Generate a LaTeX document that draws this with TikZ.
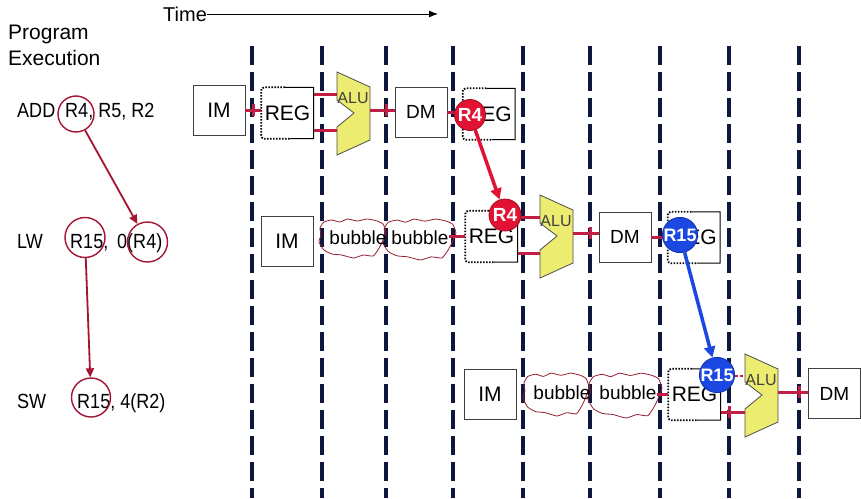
\documentclass[tikz,border=0pt]{standalone}
\usepackage{fontspec}
\setmainfont{Liberation Sans}
\newfontfamily\narrowsans[FakeStretch=0.88]{Liberation Sans}
\usetikzlibrary{arrows.meta,calc}
\definecolor{pipered}{RGB}{192,30,68}
\definecolor{circred}{RGB}{165,20,50}
\definecolor{navy}{RGB}{14,24,62}
\definecolor{aluyel}{RGB}{236,236,112}
\definecolor{rfill}{RGB}{226,18,52}
\definecolor{redge}{RGB}{165,10,30}
\definecolor{bfill}{RGB}{28,72,226}
\definecolor{bedge}{RGB}{20,50,170}
\definecolor{bubred}{RGB}{150,30,50}
\tikzset{
  stagebox/.style={draw=black!75, fill=white, line width=0.9pt, minimum width=52pt, minimum height=50pt, inner sep=0pt},
  imtext/.style={font=\fontsize{21}{21}\selectfont},
  dmtext/.style={font=\fontsize{19}{19}\selectfont},
  regnode/.style={fill=white, minimum width=52pt, minimum height=51pt, inner sep=0pt, font=\fontsize{21}{21}\selectfont},
  pipe/.style={draw=pipered, line width=3pt},
  latchmark/.style={draw=pipered, line width=3pt},
  cycleline/.style={draw=navy, line width=3.5pt, dash pattern=on 19pt off 7pt},
  regcircle/.style={circle, draw=circred, line width=1.4pt, minimum size=#1, inner sep=0pt},
  deparrow/.style={draw=circred, line width=1.8pt, -{Triangle[length=9pt,width=8pt]}},
  hotred/.style={circle, fill=rfill, draw=redge, line width=0.8pt, minimum size=31pt, inner sep=0pt, text=white, font=\bfseries\fontsize{19}{19}\selectfont},
  hotblue/.style={circle, fill=bfill, draw=bedge, line width=0.8pt, minimum size=32pt, inner sep=0pt, text=white, font=\bfseries\fontsize{18}{18}\selectfont},
  fwdred/.style={draw=rfill, line width=3.5pt, -{Triangle[length=11pt,width=11pt]}},
  fwdblue/.style={draw=bfill, line width=3.5pt, -{Triangle[length=11pt,width=11pt]}},
  lbl/.style={font=\narrowsans\fontsize{20.5}{20.5}\selectfont, inner sep=0pt, anchor=base west},
  bubtext/.style={font=\fontsize{19}{19}\selectfont, inner sep=0pt},
}
\newcommand\regoutline[1]{%
  \draw[black, line width=1pt] ($(#1.north west)!0.45!(#1.north east)$) -- (#1.north east) -- (#1.south east) -- ($(#1.south west)!0.55!(#1.south east)$);
  \draw[black, line width=1.8pt, dash pattern=on 1.6pt off 1.4pt, rounded corners=3pt] ($(#1.north west)!0.45!(#1.north east)$) -- (#1.north west) -- (#1.south west) -- ($(#1.south west)!0.55!(#1.south east)$);
}
\newcommand\alubox[3]{%
  \draw[draw=black!70, fill=aluyel, line width=0.8pt] (#2,#3) -- ++(33,15) -- ++(0,53) -- ++(-33,15) -- ++(0,-28) -- ++(17,-14) -- ++(-17,-13) -- cycle;
  \node[font=\fontsize{16}{16}\selectfont, text=black!75, inner sep=0pt] (#1) at ($(#2,#3)+(16,26)$) {ALU};
  \coordinate (#1-a) at ($(#2,#3)+(0,22)$);
  \coordinate (#1-b) at ($(#2,#3)+(0,58)$);
  \coordinate (#1-o) at ($(#2,#3)+(33,38)$);
}
\newcommand\bubblecloud[5]{%
  \begin{scope}[shift={(#2,#3)}, xscale=#4/70, yscale=#5/40]
    \draw[bubred, line width=0.8pt] plot[smooth cycle, tension=0.3] coordinates {(2,10) (6,4) (14,2) (22,4) (30,1) (40,3) (50,1) (60,3) (66,6) (69,14) (66,22) (62,30) (56,38) (46,37) (36,40) (24,37) (14,36) (6,32) (1,24) (3,17)};
  \end{scope}
}
\begin{document}
\begin{tikzpicture}[x=1pt,y=-1pt]
\useasboundingbox (0,0) rectangle (861,498);
\fill[white] (0,0) rectangle (861,498);

% clock-cycle boundaries
\foreach \x in {252,322,386,453,523,590,660,729,799}
  \draw[cycleline] (\x,46) -- (\x,498);

% headings
\node[font=\fontsize{20}{20}\selectfont, inner sep=0pt, anchor=base west] (time) at (163,21) {Time};
\coordinate (timeend) at (438,14);
\draw[line width=0.9pt, -{Latex[length=9pt,width=7pt]}] (time.east |- timeend) -- (timeend);
\node[font=\fontsize{21}{21}\selectfont, inner sep=0pt, anchor=base west] (prog) at (8,39) {Program};
\node[font=\fontsize{21}{21}\selectfont, inner sep=0pt, anchor=base west] (exec) at (8,65) {Execution};

% instruction labels
\node[lbl] (add) at (17,117) {ADD};
\node[lbl] (addops) at (65,117) {R4, R5, R2};
\node[lbl] (lw) at (17,248) {LW};
\node[lbl] (lwd) at (70,248) {R15,};
\node[lbl] (lws) at (117,248) {0(R4)};
\node[lbl] (sw) at (17,408) {SW};
\node[lbl] (swops) at (77,408) {R15, 4(R2)};

\node[regcircle=36pt] (c1) at (76,114) {};
\node[regcircle=40pt] (c2) at (85,237.5) {};
\node[regcircle=40pt] (c3) at (147.5,242) {};
\node[regcircle=39pt] (c4) at (91,397.5) {};
\draw[deparrow] (c1) -- (c3);
\draw[deparrow] (c2) -- (c4);

% ---------- row 1 : ADD ----------
\node[stagebox, imtext] (IM1) at (219,110) {IM};
\node[regnode] (REG1) at (287.5,113) {REG};
\regoutline{REG1}
\alubox{ALU1}{337}{72}
\node[stagebox, dmtext] (DM1) at (421,112) {DM};
\node[regnode] (REG1b) at (489,114) {REG};
\regoutline{REG1b}
\draw[pipe] (IM1.east) -- (IM1.east -| REG1.west);
\draw[pipe] (REG1.east |- ALU1-a) -- (ALU1-a);
\draw[pipe] (REG1.east |- ALU1-b) -- (ALU1-b);
\draw[pipe] (ALU1-o) -- (ALU1-o -| DM1.west);
\draw[latchmark] (253,104) -- (253,116);
\draw[latchmark] (386,104) -- (386,116);

% ---------- row 2 : LW ----------
\node[stagebox, imtext] (IM2) at (287,241.5) {IM};
\bubblecloud{B1}{318}{218}{69}{40}
\bubblecloud{B2}{382}{218}{75}{42}
\node[bubtext] (B1) at (358,238) {bubble};
\node[bubtext] (B2) at (420,238) {bubble};
\node[regnode] (REG2) at (491.5,236.5) {REG};
\regoutline{REG2}
\alubox{ALU2}{540}{195}
\node[stagebox, dmtext] (DM2) at (625,237) {DM};
\node[regnode] (REG2b) at (694,237.5) {REG};
\regoutline{REG2b}
\draw[pipe] (B2.east |- REG2.west) -- (REG2.west);
\draw[pipe] (REG2.east |- ALU2-a) -- (ALU2-a);
\draw[pipe] (REG2.east |- ALU2-b) -- (ALU2-b);
\draw[pipe] (ALU2-o) -- (ALU2-o -| DM2.west);
\draw[pipe] (DM2.east) -- (DM2.east -| REG2b.west);
\draw[latchmark] (590,227) -- (590,239);

% ---------- row 3 : SW ----------
\node[stagebox, imtext] (IM3) at (490,394) {IM};
\bubblecloud{B3}{522}{372}{68}{44}
\bubblecloud{B4}{587}{372}{76}{46}
\node[bubtext] (B3) at (562,393) {bubble};
\node[bubtext] (B4) at (628,393) {bubble};
\node[regnode] (REG3) at (694.5,394.5) {REG};
\regoutline{REG3}
\alubox{ALU3}{745}{354}
\node[stagebox, dmtext] (DM3) at (834.5,393.5) {DM};
\draw[pipe] (B4.east |- REG3.west) -- (REG3.west);
\draw[pipe] (REG3.east |- ALU3-b) -- (ALU3-b);
\draw[pipe] (ALU3-o) -- (ALU3-o -| DM3.west);
\draw[latchmark] (729,406) -- (729,418);
\draw[latchmark] (799,386) -- (799,398);

% forwarded values
\draw[pipe] (DM1.east) -- (DM1.east -| 462,0);
\node[hotred] (R4a) at (470,115) {R4};
\node[hotred, minimum size=32pt] (R4b) at (505,215) {R4};
\draw[fwdred] (R4a) -- (R4b);
\node[hotblue] (R15a) at (680,235) {R15};
\node[hotblue] (R15b) at (717,375) {R15};
\draw[fwdblue] (R15a) -- (R15b);
\draw[draw=pipered, line width=1.2pt, dash pattern=on 3pt off 2pt] (R15b.east |- ALU3-a) -- (ALU3-a);
\end{tikzpicture}
\end{document}
